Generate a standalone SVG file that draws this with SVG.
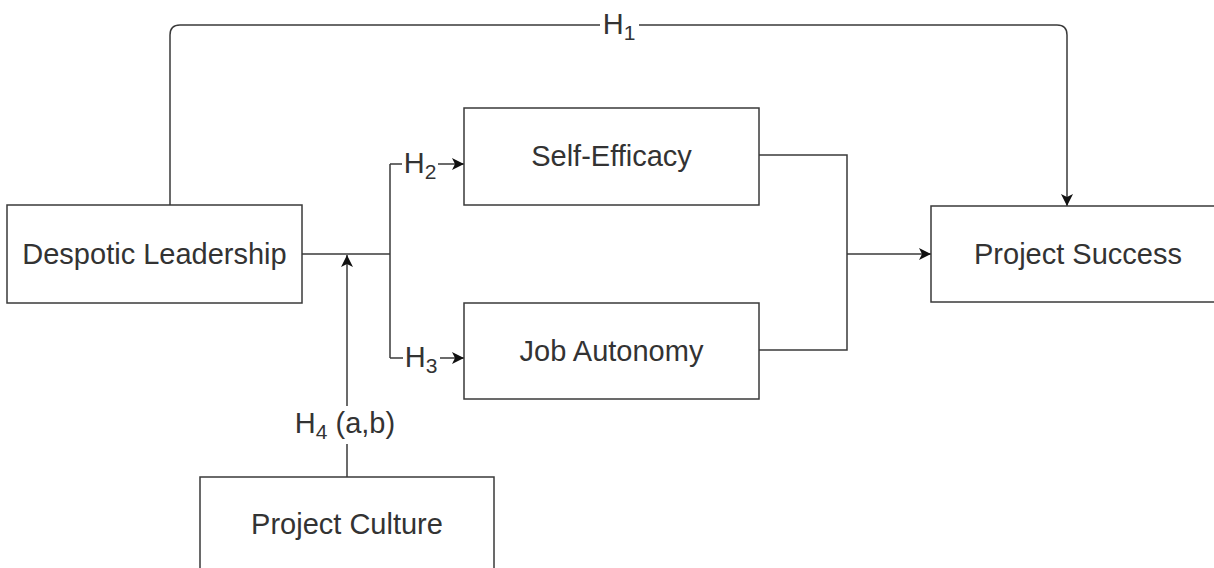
<svg xmlns="http://www.w3.org/2000/svg" width="1214" height="568" viewBox="0 0 1214 568">
<style>
.box{fill:#ffffff;stroke:#3a3a3a;stroke-width:1.5}
.t{font-family:"Liberation Sans",Arial,sans-serif;font-size:29px;fill:#333333;text-anchor:middle}
.sub{font-size:21px}
.c{fill:none;stroke:#3a3a3a;stroke-width:1.5}
.lbl{fill:#ffffff;stroke:none}
</style>
<defs>
<marker id="arr" viewBox="0 0 10 10" refX="10" refY="5" markerWidth="12" markerHeight="12" markerUnits="userSpaceOnUse" orient="auto">
<path d="M0,0 L10,5 L0,10 L2.5,5 Z" fill="#111111"/>
</marker>
</defs>
<rect width="1214" height="568" fill="#ffffff"/>
<g id="connectors">
<path class="c" d="M170,205 L170,35 Q170,25 180,25 L1057,25 Q1067,25 1067,35 L1067,206" marker-end="url(#arr)"/>
<path class="c" d="M302,254 L390,254"/>
<path class="c" d="M390,164 L390,358"/>
<path class="c" d="M390,164 L464,164" marker-end="url(#arr)"/>
<path class="c" d="M390,358 L464,358" marker-end="url(#arr)"/>
<path class="c" d="M759,155 L847,155 L847,350 L759,350"/>
<path class="c" d="M847,254 L931,254" marker-end="url(#arr)"/>
<path class="c" d="M347,477 L347,255" marker-end="url(#arr)"/>
<rect class="lbl" x="600" y="10" width="39" height="34"/>
<text class="t" x="619" y="34">H<tspan class="sub" dy="6">1</tspan></text>
<rect class="lbl" x="402" y="149" width="36" height="34"/>
<text class="t" x="420" y="173">H<tspan class="sub" dy="6">2</tspan></text>
<rect class="lbl" x="403" y="343" width="37" height="34"/>
<text class="t" x="421" y="367">H<tspan class="sub" dy="6">3</tspan></text>
<rect class="lbl" x="290" y="406" width="112" height="38"/>
<text class="t" x="345" y="433">H<tspan class="sub" dy="6">4</tspan><tspan dy="-6"> (a,b)</tspan></text>
</g>
<g id="despotic-leadership">
<rect class="box" x="7" y="205" width="295" height="98"/>
<text class="t" x="154.5" y="264">Despotic Leadership</text>
</g>
<g id="self-efficacy">
<rect class="box" x="464" y="108" width="295" height="97"/>
<text class="t" x="611.5" y="166">Self-Efficacy</text>
</g>
<g id="job-autonomy">
<rect class="box" x="464" y="303" width="295" height="96"/>
<text class="t" x="611.5" y="361">Job Autonomy</text>
</g>
<g id="project-success">
<rect class="box" x="931" y="206" width="295" height="96"/>
<text class="t" x="1078" y="264">Project Success</text>
</g>
<g id="project-culture">
<rect class="box" x="200" y="477" width="294" height="97"/>
<text class="t" x="347" y="534">Project Culture</text>
</g>
</svg>
